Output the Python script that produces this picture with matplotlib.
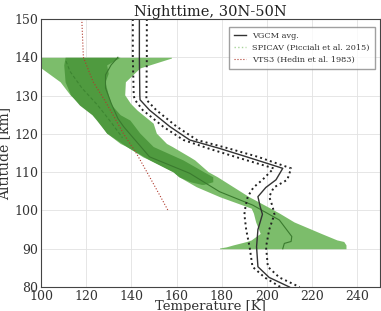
import matplotlib
matplotlib.use("Agg")
import matplotlib.pyplot as plt

# VGCM average and +/- spread
vg_alt = [150, 140, 130, 128.9, 126.2, 121.9, 118.4, 116.2, 114, 111, 108, 106, 103.6, 101, 99, 95, 90.5, 85.3, 82.5, 80]
vg_mean = [143.5, 143.5, 143.7, 143.8, 148, 157, 165.8, 179, 191, 207, 204, 199.5, 196, 197, 198, 196, 195.4, 196, 201, 210]
vg_lo = [140.6, 140.6, 141, 141.5, 145, 154, 163, 174, 186, 203, 198, 194, 191.5, 190.5, 190, 190.8, 192.3, 193.6, 199, 206]
vg_hi = [146.8, 146.8, 146.6, 146.6, 151, 160, 169, 183, 196, 210.7, 209, 203, 201, 202.5, 203.3, 201, 199.6, 200.4, 205.5, 214.5]

# SPICAV light band (outer)
sp_alt = [140, 139.8, 137.2, 133.6, 130.2, 128, 126.2, 122.8, 120.2, 117.5, 116.7, 114, 113.2, 110.1, 108.8, 106.2,
          103.6, 100.6, 99.3, 97, 94, 92.3, 91.9, 91, 90.5, 90.2, 90]
sp_lo = [100, 100, 100, 108.4, 112.8, 117, 121.6, 126, 129, 135, 137.8, 145, 148, 158.4, 161, 168.7,
         179, 193, 194, 195, 197, 193, 191, 185, 182, 179, 179]
sp_hi = [157.7, 157.7, 143.7, 137.3, 137, 139.5, 142.5, 149.6, 151, 155.5, 158, 165.8, 168, 174, 178, 185,
         192, 201.5, 205.5, 212, 224, 231, 234, 235, 235, 235, 235]

# SPICAV darker band (inner)
dk_alt = [140, 138, 135.8, 133.6, 130.2, 127.5, 125, 123.6, 120.2, 116.7, 113.2, 110.1, 108.8, 107.5, 106.8]
dk_lo = [110.6, 110, 110.3, 110.6, 113, 117, 122.5, 124.5, 129, 137.8, 148, 158.4, 161, 166, 171]
dk_hi = [134.9, 129, 129.7, 128.3, 129.7, 131.2, 135, 139.3, 143.7, 149.6, 162.8, 172, 176, 176, 172]

# SPICAV solid profile inside the band
sm_alt = [140, 138, 135.4, 132, 128, 124, 121.9, 114, 109.7, 104.9, 101.4, 97.5, 93.2, 91.9, 91.4, 90]
sm_t = [134, 131, 128.5, 128.5, 131, 134, 136.5, 148, 165.8, 179, 193.7, 205.5, 211, 210.7, 207.7, 207]

# SPICAV dotted profile
sd_alt = [139, 136.3, 132, 127.5, 123, 119]
sd_t = [111, 112.8, 118, 125, 131, 136]

# VTS3 (Hedin et al. 1983)
vt_alt = [150, 140, 133.6, 128.9, 125, 120, 114.9, 108.8, 104, 100]
vt_t = [118, 118.7, 123, 128, 131.8, 136.5, 142.2, 148, 152.5, 156.2]

plt.rcParams["font.family"] = "DejaVu Serif"
fig = plt.figure(figsize=(3.81, 3.11), dpi=100)
ax = fig.add_axes([0.108, 0.077, 0.889, 0.862])

ax.fill_betweenx(sp_alt, sp_lo, sp_hi, color="#7cbd6b", lw=0)
ax.fill_betweenx(dk_alt, dk_lo, dk_hi, color="#4f9a3f", lw=0)
ax.plot(sm_t, sm_alt, color="#3a7a2e", lw=0.8)
ax.plot(sd_t, sd_alt, color="#3d8531", lw=0.8, ls=(0, (3, 2)))

ax.plot(vg_mean, vg_alt, color="#333333", lw=1.0, label="VGCM avg.")
ax.plot(vg_lo, vg_alt, color="#222222", lw=1.4, ls=":")
ax.plot(vg_hi, vg_alt, color="#222222", lw=1.4, ls=":")
ax.plot([], [], color="#a8d49a", lw=1.0, ls=":", label="SPICAV (Picciali et al. 2015)")
ax.plot(vt_t, vt_alt, color="#b03a2e", lw=0.8, ls=":", label="VTS3 (Hedin et al. 1983)")

ax.set_xlim(100, 250)
ax.set_ylim(80, 150)
ax.set_xticks([100, 120, 140, 160, 180, 200, 220, 240])
ax.set_yticks([80, 90, 100, 110, 120, 130, 140, 150])
ax.tick_params(labelsize=9, colors="#333333", length=0, pad=2)
for s in ax.spines.values():
    s.set_color("#444444")
ax.grid(True, color="#e2e2e2", lw=0.6)
ax.set_axisbelow(True)
ax.set_title("Nighttime, 30N-50N", fontsize=10.5, pad=0, color="#222222")
ax.set_xlabel("Temperature [K]", fontsize=9.5, labelpad=-2, color="#333333")
ax.set_ylabel("Altitude [km]", fontsize=10, labelpad=2, color="#333333")
ax.legend(loc="upper right", fontsize=5.9, frameon=True, fancybox=False,
          edgecolor="#888888", handlelength=1.4, borderpad=0.6, labelspacing=0.5,
          labelcolor="#333333", bbox_to_anchor=(0.997, 0.985))

fig.savefig("out.png", dpi=100)
